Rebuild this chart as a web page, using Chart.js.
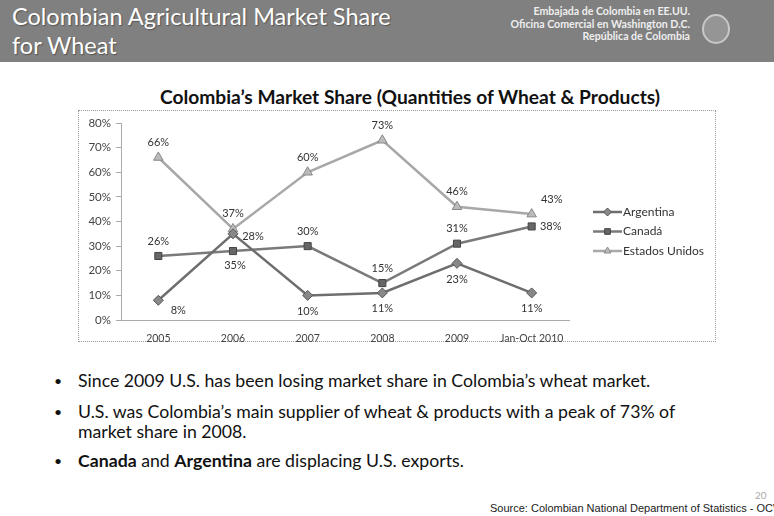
<!DOCTYPE html>
<html>
<head>
<meta charset="utf-8">
<script src="https://cdn.jsdelivr.net/npm/chart.js@4.4.1/dist/chart.umd.min.js"></script>
<style>
  html, body { margin: 0; padding: 0; background: #fff; }
  body { width: 774px; height: 516px; position: relative; overflow: hidden; font-family: Lato, "Open Sans", sans-serif; color: #111; }
  #band { position: absolute; left: 0; top: 0; width: 774px; height: 62px; background: #808080; }
  #slideTitle { position: absolute; left: 12px; top: 2px; font-size: 23.5px; line-height: 29px; color: #fff; text-shadow: 1px 1px 1px #555; }
  #embassy { position: absolute; right: 84px; top: 5px; font-size: 10.6px; font-weight: bold; line-height: 12.5px; color: #eee; text-align: right; }
  #logo { position: absolute; left: 702px; top: 14px; width: 28px; height: 30px; border: 2px solid #c8c8c8; border-radius: 50%; box-sizing: border-box; background: #959595; }
  #chartTitle { position: absolute; left: 60px; top: 86px; width: 700px; text-align: center; font-size: 19.2px; font-weight: bold; line-height: 22px; }
  #frame { position: absolute; left: 78px; top: 110px; width: 638px; height: 232px; border: 1px dotted #999; box-sizing: border-box; }
  #chart { position: absolute; left: 78px; top: 110px; }
  .bul { position: absolute; left: 54px; font-size: 14px; line-height: 20px; }
  .txt { position: absolute; left: 78px; font-size: 17.7px; line-height: 20px; }
  #page { position: absolute; left: 755px; top: 489px; font-size: 10px; color: #aaa; }
  #source { position: absolute; left: 490px; top: 502px; font-family: "Liberation Sans", Arial, sans-serif; font-size: 11px; color: #222; white-space: nowrap; }
</style>
</head>
<body>
<div id="band"></div>
<div id="slideTitle">Colombian Agricultural Market Share<br>for Wheat</div>
<div id="embassy">Embajada de Colombia en EE.UU.<br>Oficina Comercial en Washington D.C.<br>República de Colombia</div>
<div id="logo"></div>
<div id="chartTitle">Colombia’s Market Share (Quantities of Wheat &amp; Products)</div>
<div id="frame"></div>
<canvas id="chart" width="638" height="232"></canvas>

<div class="bul" style="top:371px">•</div>
<div class="txt" style="top:371px">Since 2009 U.S. has been losing market share in Colombia’s wheat market.</div>
<div class="bul" style="top:402px">•</div>
<div class="txt" style="top:402px">U.S. was Colombia’s main supplier of wheat &amp; products with a peak of 73% of<br>market share in 2008.</div>
<div class="bul" style="top:451px">•</div>
<div class="txt" style="top:451px"><b>Canada</b> and <b>Argentina</b> are displacing U.S. exports.</div>

<div id="page">20</div>
<div id="source">Source: Colombian National Department of Statistics - OCW</div>

<script>
var categories = ['2005', '2006', '2007', '2008', '2009', 'Jan-Oct 2010'];
var argentina = [8, 35, 10, 11, 23, 11];
var canada = [26, 28, 30, 15, 31, 38];
var estadosUnidos = [66, 37, 60, 73, 46, 43];
var seriesNames = ['Argentina', 'Canadá', 'Estados Unidos'];

// where each value label sits relative to its point
var argentinaLabelPos = ['belowRight', 'belowFar', 'below', 'below', 'below', 'below'];
var canadaLabelPos = ['above', 'aboveRight', 'above', 'above', 'above', 'right'];
var usLabelPos = ['above', 'above', 'above', 'above', 'above', 'aboveRight'];

var placements = {
  above: [0, -15],
  below: [0, 16],
  belowFar: [2, 32],
  belowRight: [20, 10],
  right: [19, 0],
  aboveRight: [20, -15]
};

var valueLabels = {
  id: 'valueLabels',
  afterDatasetsDraw: function (chart) {
    var ctx = chart.ctx;
    ctx.save();
    ctx.font = '11px Lato, sans-serif';
    ctx.fillStyle = '#333';
    ctx.textAlign = 'center';
    ctx.textBaseline = 'middle';
    chart.data.datasets.forEach(function (ds, i) {
      var meta = chart.getDatasetMeta(i);
      meta.data.forEach(function (pt, j) {
        var off = placements[ds.labelPos[j]];
        ctx.fillText(ds.data[j] + '%', pt.x + off[0], pt.y + off[1]);
      });
    });
    ctx.restore();
  }
};

var lineLegend = {
  id: 'lineLegend',
  afterDraw: function (chart) {
    var ctx = chart.ctx;
    var x0 = 515, y0 = 102, step = 19.5;
    ctx.save();
    chart.data.datasets.forEach(function (ds, i) {
      var y = y0 + i * step;
      ctx.strokeStyle = ds.borderColor;
      ctx.lineWidth = 2.5;
      ctx.beginPath();
      ctx.moveTo(x0, y);
      ctx.lineTo(x0 + 29, y);
      ctx.stroke();
      ctx.fillStyle = ds.pointBackgroundColor;
      ctx.strokeStyle = ds.pointBorderColor;
      ctx.lineWidth = 1;
      Chart.helpers.drawPoint(ctx, { pointStyle: ds.pointStyle, radius: 4, rotation: 0, borderWidth: 1 }, x0 + 14.5, y);
      ctx.fillStyle = '#333';
      ctx.font = '12px Lato, sans-serif';
      ctx.textAlign = 'left';
      ctx.textBaseline = 'middle';
      ctx.fillText(ds.label, x0 + 30, y);
    });
    ctx.restore();
  }
};

new Chart(document.getElementById('chart').getContext('2d'), {
  type: 'line',
  data: {
    labels: categories,
    datasets: [
      {
        label: seriesNames[0], data: argentina, labelPos: argentinaLabelPos,
        borderColor: '#6e6e6e', borderWidth: 2.5,
        pointStyle: 'rectRot', pointRadius: 5, pointBackgroundColor: '#888', pointBorderColor: '#555', pointBorderWidth: 1
      },
      {
        label: seriesNames[1], data: canada, labelPos: canadaLabelPos,
        borderColor: '#7a7a7a', borderWidth: 2.5,
        pointStyle: 'rect', pointRadius: 5, pointBackgroundColor: '#666', pointBorderColor: '#444', pointBorderWidth: 1
      },
      {
        label: seriesNames[2], data: estadosUnidos, labelPos: usLabelPos,
        borderColor: '#a8a8a8', borderWidth: 2.5,
        pointStyle: 'triangle', pointRadius: 5.5, pointBackgroundColor: '#bbb', pointBorderColor: '#888', pointBorderWidth: 1
      }
    ]
  },
  options: {
    responsive: false,
    animation: false,
    devicePixelRatio: 1,
    layout: { padding: { left: 0, top: 13, right: 147, bottom: 0 } },
    plugins: { legend: { display: false }, tooltip: { enabled: false } },
    elements: { line: { tension: 0 } },
    scales: {
      x: {
        offset: true,
        grid: { display: false, drawOnChartArea: false },
        border: { display: true, color: '#aaa', dash: [1, 2] },
        ticks: { color: '#444', font: { family: 'Lato', size: 10.5 }, padding: 4, maxRotation: 0 },
        afterFit: function (scale) { scale.height = 22; }
      },
      y: {
        min: 0, max: 80,
        grid: { drawOnChartArea: false, drawTicks: true, tickLength: 5, color: '#aaa' },
        border: { display: true, color: '#aaa', dash: [1, 2] },
        ticks: { stepSize: 10, color: '#444', font: { family: 'Lato', size: 11.5 }, padding: 5,
          callback: function (v) { return v + '%'; } },
        afterFit: function (scale) { scale.width = 43; }
      }
    }
  },
  plugins: [valueLabels, lineLegend]
});
</script>
</body>
</html>
